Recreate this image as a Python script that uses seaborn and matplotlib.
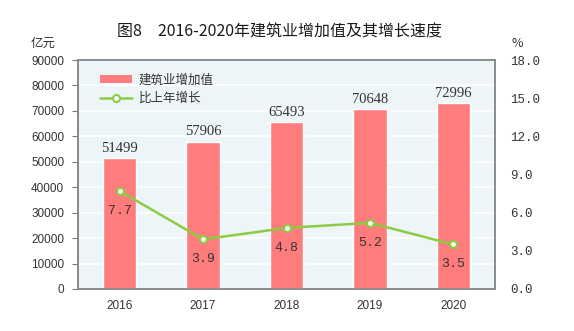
import matplotlib
matplotlib.use("Agg")
import matplotlib.pyplot as plt
import seaborn as sns
import pandas as pd
import numpy as np
from matplotlib.lines import Line2D
from matplotlib.patches import Patch

years = ["2016", "2017", "2018", "2019", "2020"]
value_added = [51499, 57906, 65493, 70648, 72996]
growth = [7.7, 3.9, 4.8, 5.2, 3.5]
left_ticks = [0, 10000, 20000, 30000, 40000, 50000, 60000, 70000, 80000, 90000]
right_ticks = [0.0, 3.0, 6.0, 9.0, 12.0, 15.0, 18.0]

sns.set_theme(style="white")
plt.rcParams['font.family'] = ['Noto Sans CJK SC', 'DejaVu Sans']

df = pd.DataFrame({"year": years, "value": value_added, "growth": growth})

fig = plt.figure(figsize=(5.74, 3.31), dpi=100)
ax = fig.add_axes([0.1359, 0.1269, 0.7265, 0.6918])
bg = "#EDF5F8"
ax.set_facecolor(bg)
bar_color = "#FF7C7C"
line_color = "#8DCB45"
txt = "#333333"
sans = ['Liberation Sans', 'DejaVu Sans']
mono = ['Liberation Mono', 'DejaVu Sans Mono']

sns.barplot(data=df, x="year", y="value", color=bar_color, width=0.4,
            saturation=1, ax=ax, zorder=3)
ax.set_ylim(0, 90000)
ax.set_yticks(left_ticks)
ax.set_yticklabels([str(t) for t in left_ticks], fontsize=8.5, color=txt, family=sans)
ax.yaxis.grid(True, color="white", linewidth=1.2, zorder=0)
ax.set_axisbelow(True)
ax.set_xlim(-0.5, 4.5)
ax.set_xlabel("")
ax.set_ylabel("")
ax.set_xticks(range(len(years)))
ax.set_xticklabels(years, fontsize=8.5, color=txt, family=sans)
ax.tick_params(axis="x", length=0, pad=8)
ax.tick_params(axis="y", direction="out", length=4, color="#777777", width=0.8, pad=6)
ax.set_xticks(np.arange(-0.5, 5, 1), minor=True)
ax.tick_params(axis="x", which="minor", direction="in", length=4, color="#777777", width=0.8)
for s in ["left", "bottom", "top", "right"]:
    ax.spines[s].set_color("#8A8A8A")
    ax.spines[s].set_linewidth(1.2)

for i, v in enumerate(value_added):
    ax.text(i, v + 3900, str(v), ha="center", va="center", fontsize=10.5, color=txt,
            family=['Liberation Serif', 'DejaVu Serif'])

ax2 = ax.twinx()
ax2.plot(range(len(years)), growth, color=line_color, linewidth=1.8, zorder=5,
         marker="o", markersize=5, markerfacecolor="white",
         markeredgecolor=line_color, markeredgewidth=1.5)
ax2.set_ylim(0, 18)
ax2.set_yticks(right_ticks)
ax2.set_yticklabels([f"{t:.1f}" for t in right_ticks], fontsize=9, color=txt,
                    family=mono)
ax2.tick_params(axis="y", direction="out", length=0, pad=11)
for s in ["left", "bottom", "top", "right"]:
    ax2.spines[s].set_color("#8A8A8A")
    ax2.spines[s].set_linewidth(1.2)
ax2.grid(False)

for i, g in enumerate(growth):
    ax2.text(i, g - 1.55, f"{g:.1f}", ha="center", va="center", fontsize=9.5,
             color=txt, family=mono)

handles = [Patch(facecolor=bar_color, edgecolor="none"),
           Line2D([0], [0], color=line_color, linewidth=1.8, marker="o", markersize=5,
                  markerfacecolor="white", markeredgecolor=line_color, markeredgewidth=1.5)]
leg = ax2.legend(handles, ["建筑业增加值", "比上年增长"], loc="upper left",
                 bbox_to_anchor=(0.025, 0.99), frameon=False, fontsize=9,
                 handlelength=2.6, handleheight=0.55, labelspacing=0.45, handletextpad=0.5)
for t in leg.get_texts():
    t.set_color(txt)

fig.text(0.487, 0.903, "图8　2016-2020年建筑业增加值及其增长速度", ha="center", va="center",
         fontsize=11.5, fontweight="medium", color="#1a1a1a")
fig.text(0.075, 0.870, "亿元", ha="center", va="center", fontsize=9, color=txt)
fig.text(0.901, 0.870, "%", ha="center", va="center", fontsize=9, color=txt)

fig.savefig("out.png", dpi=100)
